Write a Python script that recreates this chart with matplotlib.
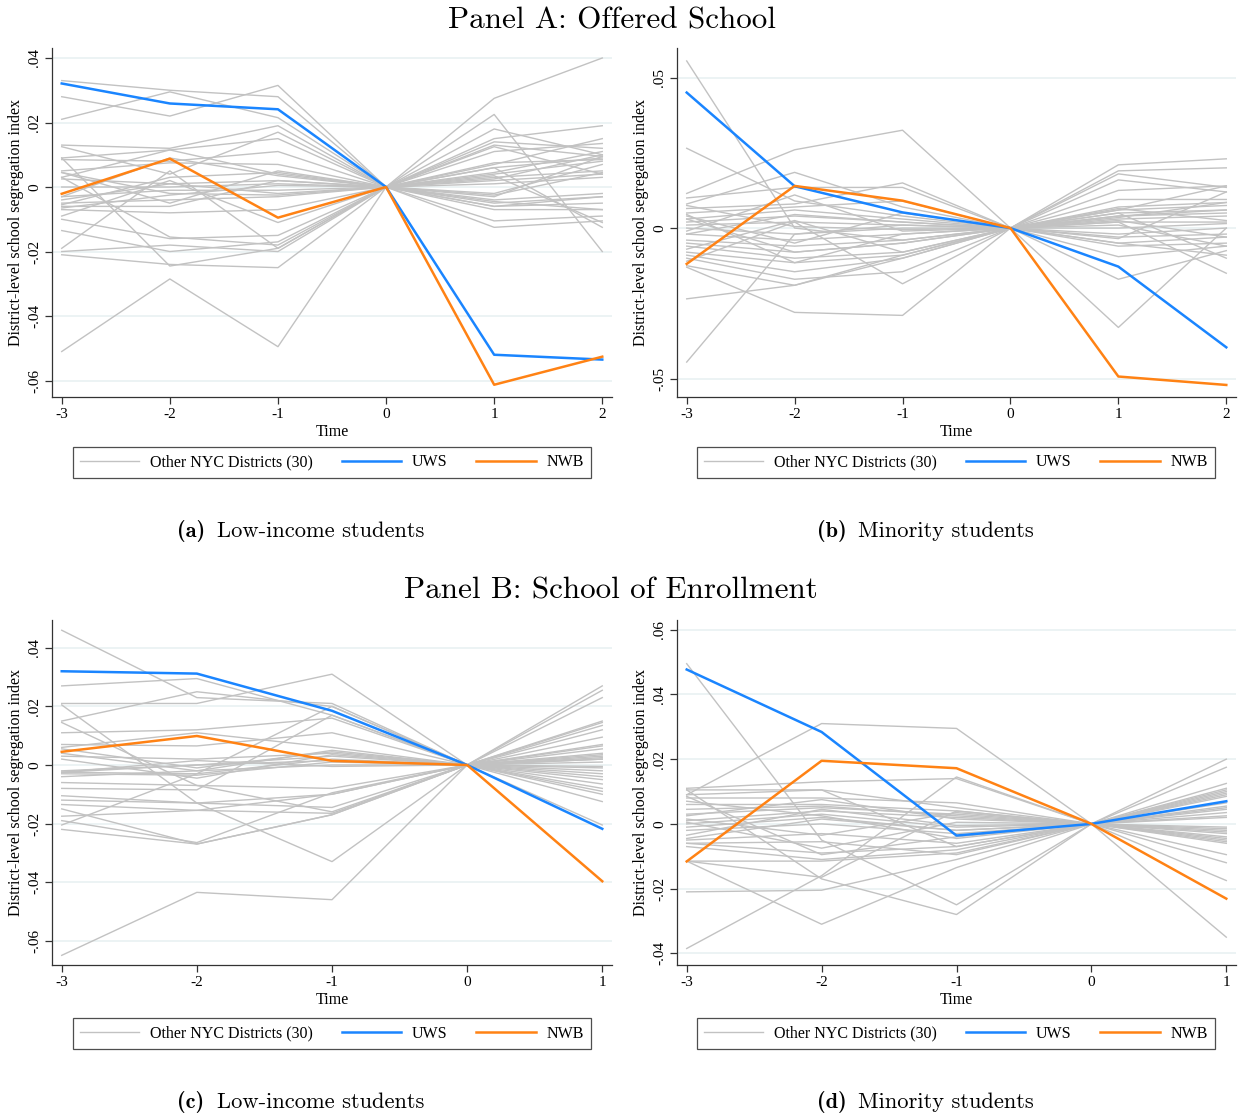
import matplotlib
matplotlib.use("Agg")
import matplotlib.pyplot as plt
from matplotlib.lines import Line2D

plt.rcParams["font.family"] = ["Liberation Serif", "DejaVu Serif"]

GRAY = "#c2c2c2"
BLUE = "#1a85ff"
ORANGE = "#ff8214"
GRID = "#e9f1f2"

# ---- Panel A (a): offered school, low-income students ----
time_a = [-3, -2, -1, 0, 1, 2]
uws_a = [0.0321, 0.0259, 0.0241, 0.0, -0.0520, -0.0535]
nwb_a = [-0.0021, 0.0088, -0.0095, 0.0, -0.0613, -0.0526]
others_a = [
    [0.033, 0.030, 0.028, 0, 0.0275, 0.040],
    [0.028, 0.022, 0.0315, 0, 0.0225, -0.020],
    [0.021, 0.0295, 0.0215, 0, 0.018, 0.010],
    [0.013, 0.012, 0.019, 0, 0.015, 0.019],
    [0.0125, 0.004, 0.017, 0, 0.014, 0.012],
    [0.009, 0.0115, 0.015, 0, 0.013, 0.0095],
    [0.0085, 0.008, 0.011, 0, 0.011, 0.0135],
    [0.005, 0.0075, 0.007, 0, 0.007, 0.015],
    [0.0045, -0.005, 0.005, 0, 0.006, 0.009],
    [0.003, 0.0115, 0.004, 0, 0.004, 0.008],
    [0.0025, 0.001, 0.002, 0, 0.003, 0.005],
    [0.0, 0.0, 0.001, 0, 0.002, 0.004],
    [-0.003, -0.001, -0.001, 0, 0.001, 0.003],
    [-0.004, 0.001, -0.002, 0, -0.002, 0.007],
    [-0.005, -0.004, -0.003, 0, -0.004, -0.002],
    [-0.006, -0.006, 0.002, 0, -0.005, -0.003],
    [-0.007, -0.008, -0.007, 0, -0.006, -0.005],
    [-0.009, 0.002, -0.011, 0, -0.007, -0.007],
    [-0.010, -0.016, -0.015, 0, -0.0105, -0.009],
    [-0.0135, -0.020, -0.017, 0, -0.0125, -0.0105],
    [-0.019, 0.005, -0.019, 0, 0.0035, -0.011],
    [-0.020, -0.018, -0.020, 0, 0.006, -0.0125],
    [-0.021, -0.024, -0.025, 0, -0.003, 0.0095],
    [-0.051, -0.0285, -0.0495, 0, -0.006, -0.003],
    [0.009, -0.0245, -0.019, 0, 0.0125, 0.004],
    [-0.0055, 0.003, 0.0045, 0, 0.0075, 0.0085],
    [0.0045, -0.002, -0.0025, 0, 0.0025, 0.010],
    [-0.003, 0.009, 0.0035, 0, -0.0025, 0.0045],
    [-0.0065, -0.0025, 0.0005, 0, 0.0045, 0.011],
    [0.003, -0.0155, -0.018, 0, -0.0045, -0.007],
]
yticks_a = [0.04, 0.02, 0.0, -0.02, -0.04, -0.06]
ylabels_a = [".04", ".02", "0", "-.02", "-.04", "-.06"]

# ---- Panel A (b): offered school, minority students ----
time_b = [-3, -2, -1, 0, 1, 2]
uws_b = [0.0450, 0.0139, 0.0052, 0.0, -0.0128, -0.0396]
nwb_b = [-0.0119, 0.0140, 0.0091, 0.0, -0.0493, -0.0521]
others_b = [
    [0.0555, 0.0, -0.004, 0, -0.033, 0.0],
    [0.0265, 0.009, 0.004, 0, 0.021, 0.023],
    [0.0115, 0.026, 0.0325, 0, 0.019, 0.020],
    [0.010, 0.0135, 0.0135, 0, 0.018, 0.0135],
    [0.008, 0.0185, 0.007, 0, 0.016, 0.012],
    [0.0065, 0.008, 0.015, 0, 0.0125, 0.014],
    [0.005, 0.007, 0.009, 0, 0.0095, 0.0095],
    [0.004, -0.005, 0.005, 0, 0.007, 0.0085],
    [0.003, 0.006, 0.003, 0, 0.006, 0.0075],
    [0.002, 0.004, 0.002, 0, 0.005, 0.006],
    [0.001, 0.002, 0.001, 0, 0.004, 0.005],
    [0.0, -0.002, 0.0, 0, 0.003, 0.004],
    [-0.001, 0.011, -0.001, 0, 0.002, 0.002],
    [-0.002, -0.004, -0.002, 0, 0.0, 0.0015],
    [-0.004, -0.006, -0.004, 0, -0.002, 0.0],
    [-0.005, -0.008, -0.005, 0, -0.003, -0.002],
    [-0.006, -0.010, -0.008, 0, -0.005, -0.003],
    [-0.008, -0.0115, -0.009, 0, -0.006, -0.005],
    [-0.009, -0.0145, -0.010, 0, -0.0095, -0.006],
    [-0.010, -0.017, -0.0145, 0, -0.017, -0.0075],
    [-0.011, 0.002, -0.0185, 0, 0.005, -0.010],
    [-0.0125, -0.019, -0.009, 0, 0.002, -0.015],
    [-0.013, -0.028, -0.029, 0, 0.0035, 0.0085],
    [-0.0235, -0.019, -0.010, 0, 0.006, 0.014],
    [-0.0445, -0.002, 0.001, 0, 0.004, 0.006],
    [0.003, -0.008, -0.005, 0, 0.001, -0.006],
    [-0.002, 0.0045, 0.002, 0, -0.005, -0.009],
    [0.0045, -0.0115, -0.002, 0, 0.0065, 0.0025],
    [-0.007, 0.0025, -0.008, 0, -0.0035, 0.012],
    [0.0075, 0.0005, -0.0005, 0, 0.0025, -0.003],
]
yticks_b = [0.05, 0.0, -0.05]
ylabels_b = [".05", "0", "-.05"]

# ---- Panel B (c): school of enrollment, low-income students ----
time_c = [-3, -2, -1, 0, 1]
uws_c = [0.0320, 0.0312, 0.0185, 0.0, -0.0218]
nwb_c = [0.0045, 0.0099, 0.0014, 0.0, -0.0397]
others_c = [
    [0.046, 0.023, 0.021, 0, 0.027],
    [0.027, 0.0295, 0.017, 0, 0.0255],
    [0.021, 0.021, 0.031, 0, 0.023],
    [0.015, 0.025, 0.020, 0, 0.015],
    [0.011, 0.012, 0.016, 0, 0.0145],
    [0.007, 0.0065, 0.011, 0, 0.0135],
    [0.006, 0.011, 0.006, 0, 0.012],
    [0.004, -0.002, 0.005, 0, 0.0095],
    [0.003, 0.002, 0.004, 0, 0.007],
    [-0.002, 0.0, 0.003, 0, 0.0065],
    [-0.0025, -0.003, 0.002, 0, 0.004],
    [-0.003, -0.0035, 0.001, 0, 0.003],
    [-0.004, -0.002, 0.0, 0, 0.002],
    [-0.006, -0.007, -0.008, 0, 0.001],
    [-0.008, -0.0085, 0.017, 0, -0.001],
    [-0.0105, -0.013, -0.010, 0, -0.002],
    [-0.012, -0.013, -0.0145, 0, -0.003],
    [-0.0135, -0.0155, -0.0165, 0, -0.005],
    [-0.015, -0.027, -0.017, 0, -0.0065],
    [-0.0175, -0.0155, -0.010, 0, -0.008],
    [-0.019, -0.0265, -0.0095, 0, -0.009],
    [-0.0205, -0.003, 0.020, 0, -0.010],
    [-0.022, -0.027, -0.017, 0, -0.0125],
    [-0.065, -0.0435, -0.046, 0, -0.0205],
    [0.0205, -0.013, -0.033, 0, 0.0025],
    [0.0145, -0.007, -0.016, 0, 0.0035],
    [0.0055, -0.001, 0.0045, 0, -0.0005],
    [-0.0025, 0.0, 0.0015, 0, 0.0055],
    [-0.0025, 0.0015, -0.0005, 0, -0.004],
    [0.002, -0.0045, 0.0035, 0, 0.002],
]
yticks_c = [0.04, 0.02, 0.0, -0.02, -0.04, -0.06]
ylabels_c = [".04", ".02", "0", "-.02", "-.04", "-.06"]

# ---- Panel B (d): school of enrollment, minority students ----
time_d = [-3, -2, -1, 0, 1]
uws_d = [0.0477, 0.0284, -0.0036, 0.0, 0.0070]
nwb_d = [-0.0116, 0.0195, 0.0172, 0.0, -0.0231]
others_d = [
    [0.0495, -0.005, -0.025, 0, -0.0175],
    [0.009, 0.031, 0.0295, 0, 0.0175],
    [-0.0385, -0.016, 0.0145, 0, -0.035],
    [0.011, 0.013, 0.014, 0, 0.020],
    [0.0105, 0.0105, 0.005, 0, 0.0125],
    [0.008, 0.008, 0.0065, 0, 0.011],
    [0.006, 0.006, 0.004, 0, 0.010],
    [0.003, 0.005, 0.003, 0, 0.009],
    [0.001, 0.004, 0.002, 0, 0.0065],
    [0.0, 0.003, -0.001, 0, 0.0055],
    [-0.001, 0.002, -0.002, 0, 0.005],
    [-0.002, 0.0, -0.003, 0, 0.002],
    [-0.005, -0.003, -0.006, 0, -0.001],
    [-0.006, -0.009, -0.007, 0, -0.002],
    [-0.007, -0.011, -0.008, 0, -0.003],
    [-0.0115, -0.0115, -0.009, 0, -0.004],
    [-0.021, -0.0205, -0.011, 0, -0.005],
    [-0.0115, -0.031, -0.0135, 0, -0.006],
    [0.0105, -0.017, -0.028, 0, -0.0095],
    [0.009, 0.0105, -0.007, 0, -0.012],
    [-0.0115, -0.0165, 0.004, 0, 0.0095],
    [0.0045, 0.0055, 0.0025, 0, 0.0025],
    [0.0015, -0.0035, 0.0035, 0, -0.0025],
    [-0.0035, 0.0045, -0.0005, 0, 0.0085],
    [0.007, 0.0025, -0.0045, 0, -0.0045],
    [0.0025, 0.0075, 0.0015, 0, 0.0035],
    [-0.006, -0.0055, -0.0095, 0, 0.0105],
    [0.0005, -0.0075, 0.0005, 0, -0.0055],
    [-0.0045, 0.0015, -0.002, 0, 0.0045],
    [0.0085, -0.0095, -0.004, 0, -0.0015],
]
yticks_d = [0.06, 0.04, 0.02, 0.0, -0.02, -0.04]
ylabels_d = [".06", ".04", ".02", "0", "-.02", "-.04"]

legend_labels = ["Other NYC Districts (30)", "UWS", "NWB"]
panel_titles = ["Panel A: Offered School", "Panel B: School of Enrollment"]
captions = [("(a)", "Low-income students"), ("(b)", "Minority students"),
            ("(c)", "Low-income students"), ("(d)", "Minority students")]

panels = [
    (time_a, uws_a, nwb_a, others_a, yticks_a, ylabels_a, (-0.0651, 0.0431)),
    (time_b, uws_b, nwb_b, others_b, yticks_b, ylabels_b, (-0.0561, 0.0598)),
    (time_c, uws_c, nwb_c, others_c, yticks_c, ylabels_c, (-0.0683, 0.0495)),
    (time_d, uws_d, nwb_d, others_d, yticks_d, ylabels_d, (-0.0436, 0.0630)),
]

W, H = 1241, 1118
fig = plt.figure(figsize=(W / 100, H / 100), dpi=100)

# axes boxes in pixels: left, top, right, bottom
boxes = [(52, 48, 612, 397), (677, 48, 1236, 397),
         (52, 620, 612, 965), (677, 620, 1236, 965)]
legend_centers = [(332, 462.5), (956, 462.5), (332, 1033.5), (956, 1033.5)]
# left edge of "(x)" and of the caption text, and the caption's y
caption_pos = [(177, 217, 531), (817, 858, 531), (177, 217, 1102), (817, 858, 1102)]

for i, (t, uws, nwb, others, yt, yl, ylim) in enumerate(panels):
    l, tp, r, b = boxes[i]
    ax = fig.add_axes([l / W, 1 - b / H, (r - l) / W, (b - tp) / H])
    for row in others:
        ax.plot(t, row, color=GRAY, lw=1.0, zorder=2)
    ax.plot(t, uws, color=BLUE, lw=1.8, zorder=3)
    ax.plot(t, nwb, color=ORANGE, lw=1.8, zorder=4)

    ax.set_xlim(t[0] - 0.09 * (len(t) - 1) / 5, t[-1] + 0.09 * (len(t) - 1) / 5)
    ax.set_ylim(*ylim)
    ax.set_xticks(t)
    ax.set_xticklabels([str(v) for v in t])
    ax.set_yticks(yt)
    ax.set_yticklabels(yl, rotation=90, va="center")
    ax.grid(axis="y", color=GRID, lw=1.2, zorder=0)
    ax.set_axisbelow(True)
    for side in ["top", "right"]:
        ax.spines[side].set_visible(False)
    for side in ["left", "bottom"]:
        ax.spines[side].set_color("#333333")
        ax.spines[side].set_linewidth(0.9)
    ax.tick_params(direction="out", length=5, width=0.9, color="#333333",
                   labelsize=11, pad=3)
    ax.set_xlabel("Time", fontsize=11.5, labelpad=2)
    ax.set_ylabel("District-level school segregation index", fontsize=11.5,
                  labelpad=3)

    handles = [Line2D([], [], color=GRAY, lw=1.0),
               Line2D([], [], color=BLUE, lw=1.8),
               Line2D([], [], color=ORANGE, lw=1.8)]
    cx, cy = legend_centers[i]
    leg = fig.legend(handles, legend_labels, loc="center",
                     bbox_to_anchor=(cx / W, 1 - cy / H), ncol=3,
                     fontsize=11.5, frameon=True, fancybox=False,
                     handlelength=3.7, handletextpad=0.7, columnspacing=1.8,
                     borderpad=0.45, borderaxespad=0)
    leg.get_frame().set_edgecolor("#222222")
    leg.get_frame().set_linewidth(0.9)

    tag, text = captions[i]
    x0, x1, py = caption_pos[i]
    fig.text(x0 / W, 1 - py / H, tag, ha="left", va="center",
             fontsize=16, family="cmb10")
    fig.text(x1 / W, 1 - py / H, text, ha="left", va="center",
             fontsize=16.2, family="cmr10")

fig.text(612 / W, 1 - 21 / H, panel_titles[0], ha="center", va="center",
         fontsize=22.4, family="cmr10")
fig.text(611 / W, 1 - 591 / H, panel_titles[1], ha="center", va="center",
         fontsize=22.4, family="cmr10")

fig.savefig("out.png", dpi=100, facecolor="white")
